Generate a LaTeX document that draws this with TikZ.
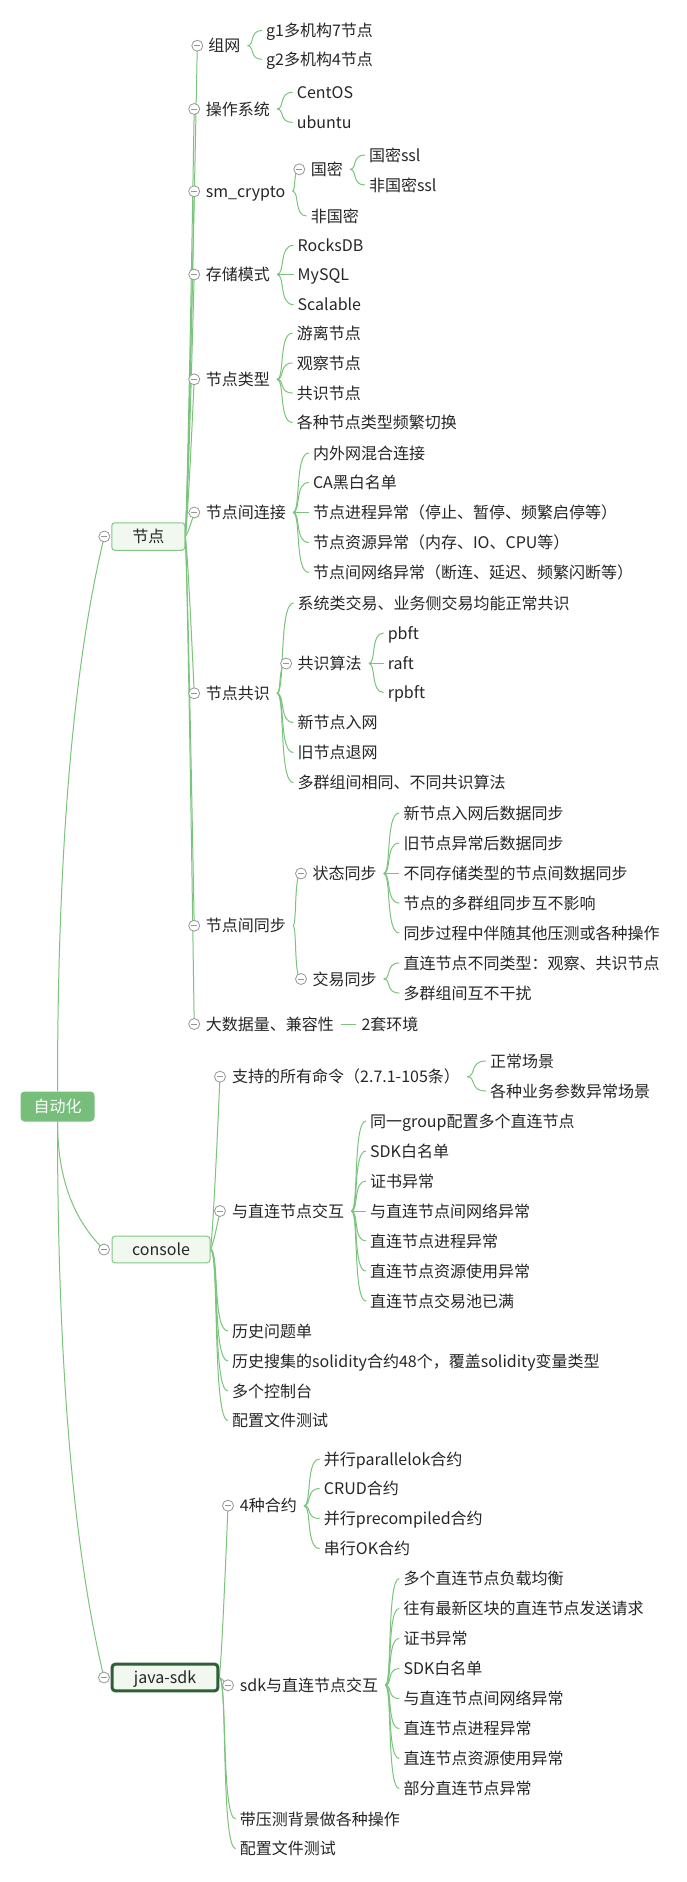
\documentclass[tikz,border=0pt]{standalone}
\usepackage{fontspec}
\setmainfont{Noto Sans CJK SC}
\usetikzlibrary{calc,backgrounds}
\definecolor{linegreen}{RGB}{122,196,124}
\definecolor{rootgreen}{RGB}{118,190,122}
\definecolor{boxfill}{RGB}{241,248,240}
\definecolor{boxline}{RGB}{128,200,132}
\definecolor{darkbox}{RGB}{47,94,55}
\definecolor{circgray}{RGB}{150,150,150}
\definecolor{txtcol}{RGB}{38,38,38}
\newcommand{\mmfont}{\fontsize{16pt}{19pt}\selectfont}
\newcommand{\mmc}[6]{\draw[conn] let \p1=(#1), \p2=(#2) in (\p1) .. controls ({\x1+#3*(\x2-\x1)},{\y1+#4*(\y2-\y1)}) and ({\x1+#5*(\x2-\x1)},{\y1+#6*(\y2-\y1)}) .. (\p2);}
\newcommand{\brc}[2]{\mmc{#1}{#2}{0.5}{0}{0.1}{1}}
\newcommand{\lng}[2]{\mmc{#1}{#2}{0.2}{0.08}{0.533}{0.413}}
\newcommand{\rtc}[2]{\mmc{#1}{#2}{0}{0.433}{0.333}{0.767}}
\begin{document}
\begin{tikzpicture}[x=1pt,y=-1pt,
  conn/.style={draw=linegreen,line width=1pt},
  txt/.style={anchor=west,inner sep=0pt,text=txtcol,font=\mmfont,text height=14pt,text depth=2pt},
  mmcirc/.style={circle,draw=circgray,fill=white,line width=0.8pt,minimum size=11pt,inner sep=0pt,
    path picture={\draw[circgray,line width=0.8pt] ([xshift=2.5pt]path picture bounding box.west) -- ([xshift=-2.5pt]path picture bounding box.east);}},
  l1box/.style={draw=boxline,fill=boxfill,rounded corners=3pt,line width=1pt,text=txtcol,font=\mmfont,inner sep=0pt,text height=14pt,text depth=2pt}]
\useasboundingbox (0,0) rectangle (686,1882);
% root
\node[fill=rootgreen,rounded corners=4pt,minimum width=74pt,minimum height=30pt,text=white,font=\mmfont,inner sep=0pt,text height=14pt,text depth=2pt] (root) at (57.5,1106.5) {自动化};
% level 1
\node[l1box,minimum width=73pt,minimum height=27.5pt] (n1) at (148.3,536.5) {节点};
\node[l1box,minimum width=98pt,minimum height=26.6pt] (n2) at (161,1249.5) {console};
\node[l1box,draw=darkbox,line width=3pt,minimum width=105.6pt,minimum height=26.6pt] (n3) at (165,1677.5) {java-sdk};
\node[mmcirc] (c1) at (104.3,536.5) {};
\node[mmcirc] (c2) at (104,1249.5) {};
\node[mmcirc] (c3) at (104,1677.5) {};
% level 2 under 节点
\node[txt] (a1) at (208.2,45.7) {组网};
\node[txt] (a2) at (205.6,109) {操作系统};
\node[txt] (a3) at (205.6,191.3) {sm\_crypto};
\node[txt] (a4) at (205.6,274.5) {存储模式};
\node[txt] (a5) at (205.6,379.3) {节点类型};
\node[txt] (a6) at (205.6,512.5) {节点间连接};
\node[txt] (a7) at (205.6,693.3) {节点共识};
\node[txt] (a8) at (205.6,925.7) {节点间同步};
\node[txt] (a9) at (205.6,1024) {大数据量、兼容性};
\node[mmcirc] (ca1) at (197.3,45.7) {};
\node[mmcirc] (ca2) at (194.2,109) {};
\node[mmcirc] (ca3) at (194.2,191.3) {};
\node[mmcirc] (ca4) at (194.2,274.5) {};
\node[mmcirc] (ca5) at (194.2,379.3) {};
\node[mmcirc] (ca6) at (194.3,512.5) {};
\node[mmcirc] (ca7) at (194.2,693.3) {};
\node[mmcirc] (ca8) at (194.2,925.7) {};
\node[mmcirc] (ca9) at (194.2,1024) {};
% level 3
\node[txt] (a1a) at (266,30.5) {g1多机构7节点};
\node[txt] (a1b) at (266,59.3) {g2多机构4节点};
\node[txt] (a2a) at (296.6,92.3) {CentOS};
\node[txt] (a2b) at (296.6,122.3) {ubuntu};
\node[txt] (a3a) at (310.6,169.3) {国密};
\node[mmcirc] (ca3a) at (299.3,169.3) {};
\node[txt] (a3b) at (310.6,216) {非国密};
\node[txt] (a3a1) at (368.8,155) {国密ssl};
\node[txt] (a3a2) at (368.8,185) {非国密ssl};
\node[txt] (a4a) at (297.5,245.3) {RocksDB};
\node[txt] (a4b) at (297.5,274.5) {MySQL};
\node[txt] (a4c) at (297.5,304.7) {Scalable};
\node[txt] (a5a) at (296.6,333) {游离节点};
\node[txt] (a5b) at (296.6,363) {观察节点};
\node[txt] (a5c) at (296.6,393) {共识节点};
\node[txt] (a5d) at (296.6,422.5) {各种节点类型频繁切换};
\node[txt] (a6a) at (312.8,453) {内外网混合连接};
\node[txt] (a6b) at (312.8,482.5) {CA黑白名单};
\node[txt] (a6c) at (312.8,512.5) {节点进程异常（停止、暂停、频繁启停等）};
\node[txt] (a6d) at (312.8,542.5) {节点资源异常（内存、IO、CPU等）};
\node[txt] (a6e) at (312.8,572.5) {节点间网络异常（断连、延迟、频繁闪断等）};
\node[txt] (a7a) at (297.5,603) {系统类交易、业务侧交易均能正常共识};
\node[txt] (a7b) at (297.5,663.5) {共识算法};
\node[mmcirc] (ca7b) at (286.1,663.5) {};
\node[txt] (a7c) at (297.5,722.5) {新节点入网};
\node[txt] (a7d) at (297.5,752.5) {旧节点退网};
\node[txt] (a7e) at (297.5,782.7) {多群组间相同、不同共识算法};
\node[txt] (a7b1) at (387.6,633) {pbft};
\node[txt] (a7b2) at (387.6,663.5) {raft};
\node[txt] (a7b3) at (387.6,692.5) {rpbft};
\node[txt] (a8a) at (312.3,873.5) {状态同步};
\node[mmcirc] (ca8a) at (301,873.5) {};
\node[txt] (a8b) at (312.3,979) {交易同步};
\node[mmcirc] (ca8b) at (301,979) {};
\node[txt] (a8a1) at (403.3,813) {新节点入网后数据同步};
\node[txt] (a8a2) at (403.3,843) {旧节点异常后数据同步};
\node[txt] (a8a3) at (403.3,873.5) {不同存储类型的节点间数据同步};
\node[txt] (a8a4) at (403.3,903) {节点的多群组同步互不影响};
\node[txt] (a8a5) at (403.3,933) {同步过程中伴随其他压测或各种操作};
\node[txt] (a8b1) at (403.3,963) {直连节点不同类型：观察、共识节点};
\node[txt] (a8b2) at (403.3,993) {多群组间互不干扰};
\node[txt] (a9a) at (361.3,1024) {2套环境};
% console
\node[txt] (b1) at (232,1076.7) {支持的所有命令（2.7.1-105条）};
\node[mmcirc] (cb1) at (220,1076.7) {};
\node[txt] (b1a) at (490,1061) {正常场景};
\node[txt] (b1b) at (490,1091) {各种业务参数异常场景};
\node[txt] (b2) at (232,1211) {与直连节点交互};
\node[mmcirc] (cb2) at (220,1211) {};
\node[txt] (b2a) at (370,1121) {同一group配置多个直连节点};
\node[txt] (b2b) at (370,1151) {SDK白名单};
\node[txt] (b2c) at (370,1181) {证书异常};
\node[txt] (b2d) at (370,1211) {与直连节点间网络异常};
\node[txt] (b2e) at (370,1241) {直连节点进程异常};
\node[txt] (b2f) at (370,1271) {直连节点资源使用异常};
\node[txt] (b2g) at (370,1301) {直连节点交易池已满};
\node[txt] (b3) at (232,1331) {历史问题单};
\node[txt] (b4) at (232,1361) {历史搜集的solidity合约48个，覆盖solidity变量类型};
\node[txt] (b5) at (232,1391) {多个控制台};
\node[txt] (b6) at (232,1420.5) {配置文件测试};
% java-sdk
\node[txt] (d1) at (239.7,1505.7) {4种合约};
\node[mmcirc] (cd1) at (228,1505.7) {};
\node[txt] (d1a) at (323.7,1459) {并行parallelok合约};
\node[txt] (d1b) at (323.7,1488.5) {CRUD合约};
\node[txt] (d1c) at (323.7,1518.5) {并行precompiled合约};
\node[txt] (d1d) at (323.7,1548.5) {串行OK合约};
\node[txt] (d2) at (239.7,1685.3) {sdk与直连节点交互};
\node[mmcirc] (cd2) at (228,1685.3) {};
\node[txt] (d2a) at (403.3,1578.5) {多个直连节点负载均衡};
\node[txt] (d2b) at (403.3,1608.5) {往有最新区块的直连节点发送请求};
\node[txt] (d2c) at (403.3,1638.5) {证书异常};
\node[txt] (d2d) at (403.3,1668.5) {SDK白名单};
\node[txt] (d2e) at (403.3,1698.5) {与直连节点间网络异常};
\node[txt] (d2f) at (403.3,1728.5) {直连节点进程异常};
\node[txt] (d2g) at (403.3,1758.5) {直连节点资源使用异常};
\node[txt] (d2h) at (403.3,1788.5) {部分直连节点异常};
\node[txt] (d3) at (239.7,1819) {带压测背景做各种操作};
\node[txt] (d4) at (239.7,1848.5) {配置文件测试};
\begin{pgfonlayer}{background}
\fill[white] (0,0) rectangle (686,1882);
% root connectors
\rtc{root.north}{c1.center}
\rtc{root.south}{c2.center}
\rtc{root.south}{c3.center}
% 节点 children
\foreach \k in {ca1,ca2,ca3,ca4,ca5,ca6,ca7,ca8,ca9} {\lng{n1.east}{\k.center}}
% console children
\lng{n2.east}{cb1.center}
\lng{n2.east}{cb2.center}
\foreach \k in {b3,b4,b5,b6} {\brc{n2.east}{[xshift=-4pt]\k.west}}
% java-sdk children
\lng{n3.east}{cd1.center}
\lng{n3.east}{cd2.center}
\foreach \k in {d3,d4} {\brc{n3.east}{[xshift=-4pt]\k.west}}
% level 2 -> 3
\foreach \k in {a1a,a1b} {\brc{[xshift=7pt]a1.east}{[xshift=-4pt]\k.west}}
\foreach \k in {a2a,a2b} {\brc{[xshift=7pt]a2.east}{[xshift=-4pt]\k.west}}
\brc{[xshift=7pt]a3.east}{ca3a.center}
\brc{[xshift=7pt]a3.east}{[xshift=-4pt]a3b.west}
\foreach \k in {a3a1,a3a2} {\brc{[xshift=7pt]a3a.east}{[xshift=-4pt]\k.west}}
\foreach \k in {a4a,a4b,a4c} {\brc{[xshift=7pt]a4.east}{[xshift=-4pt]\k.west}}
\foreach \k in {a5a,a5b,a5c,a5d} {\brc{[xshift=7pt]a5.east}{[xshift=-4pt]\k.west}}
\foreach \k in {a6a,a6b,a6c,a6d,a6e} {\brc{[xshift=7pt]a6.east}{[xshift=-4pt]\k.west}}
\foreach \k in {a7a,a7c,a7d,a7e} {\brc{[xshift=7pt]a7.east}{[xshift=-4pt]\k.west}}
\brc{[xshift=7pt]a7.east}{ca7b.center}
\foreach \k in {a7b1,a7b2,a7b3} {\brc{[xshift=7pt]a7b.east}{[xshift=-4pt]\k.west}}
\brc{[xshift=7pt]a8.east}{ca8a.center}
\brc{[xshift=7pt]a8.east}{ca8b.center}
\foreach \k in {a8a1,a8a2,a8a3,a8a4,a8a5} {\brc{[xshift=7pt]a8a.east}{[xshift=-4pt]\k.west}}
\foreach \k in {a8b1,a8b2} {\brc{[xshift=7pt]a8b.east}{[xshift=-4pt]\k.west}}
\draw[conn] ([xshift=7pt]a9.east) -- ([xshift=-5pt]a9a.west);
\foreach \k in {b1a,b1b} {\brc{[xshift=7pt]b1.east}{[xshift=-4pt]\k.west}}
\foreach \k in {b2a,b2b,b2c,b2d,b2e,b2f,b2g} {\brc{[xshift=7pt]b2.east}{[xshift=-4pt]\k.west}}
\foreach \k in {d1a,d1b,d1c,d1d} {\brc{[xshift=7pt]d1.east}{[xshift=-4pt]\k.west}}
\foreach \k in {d2a,d2b,d2c,d2d,d2e,d2f,d2g,d2h} {\brc{[xshift=7pt]d2.east}{[xshift=-4pt]\k.west}}
\end{pgfonlayer}
\end{tikzpicture}
\end{document}
